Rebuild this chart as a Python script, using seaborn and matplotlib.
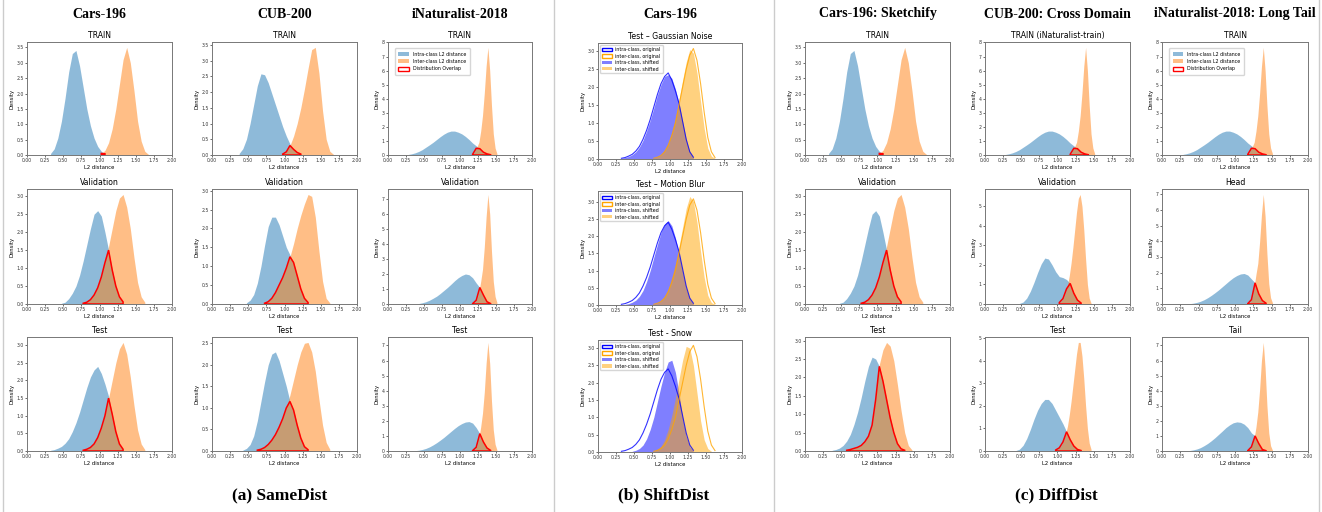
import numpy as np
import pandas as pd
import matplotlib
matplotlib.use("Agg")
import matplotlib.pyplot as plt
from matplotlib.patches import Patch
from matplotlib.lines import Line2D
from matplotlib.ticker import MultipleLocator, FormatStrFormatter
import seaborn as sns

BIN = 0.05    # coarse bin width of the stored densities
FINE = 0.025  # bin width used for the narrow inter-class peaks

# ---------------- data (density per bin) ----------------
# Cars-196 (same data reused for Sketchify TRAIN / Validation)
cars_train_intra_start = 0.30
cars_train_intra = [0.05, 0.2, 0.55, 1.1, 1.85, 2.7, 3.3, 3.4, 2.9, 2.2, 1.5, 0.95, 0.55, 0.28, 0.12, 0.04]
cars_train_inter_start = 1.00
cars_train_inter = [0.05, 0.15, 0.4, 0.85, 1.5, 2.3, 3.1, 3.5, 3.0, 2.1, 1.1, 0.45, 0.12, 0.02]

cars_val_intra_start = 0.45
cars_val_intra = [0.02, 0.05, 0.15, 0.3, 0.5, 0.8, 1.2, 1.65, 2.1, 2.5, 2.6, 2.45, 2.0, 1.5, 0.95, 0.5, 0.2, 0.06]
cars_val_inter_start = 0.75
cars_val_inter = [0.02, 0.05, 0.12, 0.25, 0.45, 0.75, 1.15, 1.6, 2.1, 2.6, 2.95, 3.05, 2.7, 2.1, 1.3, 0.6, 0.2, 0.05]

cars_test_intra_start = 0.30
cars_test_intra = [0.02, 0.04, 0.08, 0.13, 0.22, 0.35, 0.55, 0.8, 1.1, 1.45, 1.8, 2.1, 2.3, 2.4, 2.2, 1.9, 1.55, 1.05, 0.55, 0.2, 0.05]
cars_test_inter_start = 0.75
cars_test_inter = [0.02, 0.05, 0.1, 0.2, 0.38, 0.65, 1.0, 1.5, 2.0, 2.5, 2.9, 3.08, 2.75, 2.1, 1.3, 0.6, 0.2, 0.04]

# CUB-200
cub_train_intra_start = 0.35
cub_train_intra = [0.05, 0.2, 0.5, 1.0, 1.6, 2.2, 2.58, 2.55, 2.3, 1.95, 1.6, 1.25, 0.9, 0.6, 0.35, 0.18, 0.08, 0.03]
cub_train_inter_start = 0.95
cub_train_inter = [0.03, 0.1, 0.3, 0.6, 1.0, 1.5, 2.1, 2.75, 3.35, 3.42, 2.6, 1.4, 0.5, 0.12, 0.02]

cub_val_intra_start = 0.45
cub_val_intra = [0.03, 0.1, 0.25, 0.55, 1.0, 1.55, 2.05, 2.3, 2.3, 2.1, 1.8, 1.5, 1.3, 1.1, 0.75, 0.4, 0.15, 0.04]
cub_val_inter_start = 0.70
cub_val_inter = [0.02, 0.06, 0.15, 0.3, 0.5, 0.7, 0.95, 1.25, 1.6, 2.0, 2.35, 2.65, 2.9, 2.85, 2.3, 1.4, 0.6, 0.15, 0.03]

cub_test_intra_start = 0.40
cub_test_intra = [0.02, 0.06, 0.15, 0.35, 0.7, 1.15, 1.6, 2.0, 2.25, 2.3, 2.1, 1.8, 1.5, 1.15, 0.95, 0.6, 0.3, 0.1, 0.03]
cub_test_inter_start = 0.60
cub_test_inter = [0.02, 0.04, 0.08, 0.15, 0.25, 0.38, 0.55, 0.75, 1.0, 1.3, 1.65, 2.0, 2.3, 2.5, 2.52, 2.3, 1.85, 1.2, 0.6, 0.2, 0.04]

# iNaturalist-2018 (TRAIN reused in DiffDist)
inat_train_intra_start = 0.25
inat_train_intra = [0.03, 0.08, 0.15, 0.25, 0.38, 0.55, 0.72, 0.9, 1.1, 1.3, 1.48, 1.62, 1.7, 1.7, 1.62, 1.5, 1.32, 1.1, 0.85, 0.65, 0.45, 0.2, 0.08, 0.02]
inat_train_inter_start = 1.175
inat_train_inter = [0.1, 0.35, 0.6, 0.9, 1.7, 2.8, 4.4, 6.3, 7.65, 6.0, 3.5, 1.5, 0.5, 0.1]

inat_val_intra_start = 0.40
inat_val_intra = [0.03, 0.08, 0.15, 0.25, 0.38, 0.52, 0.7, 0.9, 1.1, 1.32, 1.55, 1.75, 1.9, 2.0, 1.95, 1.75, 1.4, 1.1, 0.6, 0.15, 0.03]
inat_val_inter_start = 1.175
inat_val_inter = [0.05, 0.15, 0.35, 0.8, 1.5, 2.3, 3.8, 5.8, 7.3, 6.0, 3.5, 1.5, 0.5, 0.1]

inat_test_intra_start = 0.35
inat_test_intra = [0.02, 0.05, 0.1, 0.17, 0.27, 0.4, 0.55, 0.72, 0.9, 1.1, 1.3, 1.5, 1.68, 1.82, 1.92, 1.95, 1.85, 1.55, 1.15, 0.6, 0.2, 0.04]
inat_test_inter_start = 1.175
inat_test_inter = [0.05, 0.15, 0.35, 0.85, 1.6, 2.5, 3.9, 5.8, 7.2, 5.8, 3.3, 1.4, 0.45, 0.08]

# ShiftDist (Cars-196 test, shifted versions; originals = cars_test_*)
noise_intra_start = 0.30
noise_intra = [0.02, 0.04, 0.07, 0.12, 0.2, 0.33, 0.52, 0.78, 1.08, 1.42, 1.78, 2.08, 2.3, 2.35, 2.25, 1.95, 1.55, 1.05, 0.55, 0.2, 0.05]
noise_inter_start = 0.75
noise_inter = [0.02, 0.05, 0.12, 0.25, 0.45, 0.75, 1.15, 1.65, 2.2, 2.7, 3.05, 2.95, 2.4, 1.6, 0.85, 0.3, 0.08, 0.02]

blur_intra_start = 0.35
blur_intra = [0.02, 0.04, 0.08, 0.14, 0.25, 0.42, 0.68, 1.0, 1.38, 1.75, 2.1, 2.35, 2.45, 2.3, 1.95, 1.5, 0.98, 0.5, 0.18, 0.04]
blur_inter_start = 0.75
blur_inter = [0.02, 0.05, 0.12, 0.25, 0.47, 0.8, 1.2, 1.7, 2.25, 2.8, 3.15, 3.0, 2.4, 1.55, 0.8, 0.28, 0.07, 0.02]

snow_intra_start = 0.45
snow_intra = [0.02, 0.05, 0.1, 0.2, 0.38, 0.65, 1.0, 1.45, 1.9, 2.3, 2.6, 2.65, 2.3, 1.7, 1.0, 0.45, 0.15, 0.03]
snow_inter_start = 0.75
snow_inter = [0.03, 0.07, 0.17, 0.35, 0.65, 1.05, 1.55, 2.1, 2.65, 3.05, 3.0, 2.5, 1.7, 0.9, 0.35, 0.1, 0.02]

# DiffDist
sketch_test_intra_start = 0.35
sketch_test_intra = [0.02, 0.04, 0.08, 0.15, 0.27, 0.45, 0.72, 1.05, 1.45, 1.9, 2.3, 2.55, 2.5, 2.3, 1.9, 1.4, 0.9, 0.5, 0.2, 0.06, 0.02]
sketch_test_inter_start = 0.55
sketch_test_inter = [0.02, 0.04, 0.07, 0.1, 0.15, 0.25, 0.4, 0.7, 1.4, 2.35, 2.75, 2.95, 2.85, 2.45, 1.8, 1.1, 0.5, 0.15, 0.03]

cross_val_intra_start = 0.45
cross_val_intra = [0.03, 0.1, 0.3, 0.65, 1.1, 1.6, 2.05, 2.35, 2.3, 2.0, 1.65, 1.4, 1.35, 1.25, 1.05, 0.55, 0.2, 0.05]
cross_val_inter_start = 1.00
cross_val_inter = [0.05, 0.1, 0.2, 0.35, 0.6, 0.95, 1.45, 2.1, 2.9, 3.8, 4.7, 5.4, 5.6, 5.0, 3.8, 2.3, 1.0, 0.3, 0.05]

cross_test_intra_start = 0.40
cross_test_intra = [0.02, 0.08, 0.25, 0.55, 0.95, 1.4, 1.8, 2.1, 2.28, 2.28, 2.1, 1.8, 1.5, 1.2, 0.85, 0.5, 0.22, 0.07, 0.02]
cross_test_inter_start = 0.95
cross_test_inter = [0.03, 0.06, 0.1, 0.18, 0.3, 0.5, 0.75, 1.1, 1.6, 2.2, 2.9, 3.6, 4.3, 4.8, 4.8, 4.2, 3.2, 2.0, 1.0, 0.35, 0.08]

head_intra_start = 0.35
head_intra = [0.02, 0.05, 0.1, 0.17, 0.27, 0.4, 0.55, 0.72, 0.9, 1.1, 1.3, 1.5, 1.68, 1.82, 1.92, 1.95, 1.85, 1.6, 1.35, 0.65, 0.22, 0.05]
head_inter_start = 1.175
head_inter = [0.05, 0.15, 0.4, 1.1, 1.9, 2.6, 4.0, 5.7, 7.0, 5.6, 3.2, 1.3, 0.4, 0.08]

tail_intra_start = 0.35
tail_intra = [0.03, 0.07, 0.13, 0.22, 0.35, 0.5, 0.68, 0.88, 1.1, 1.32, 1.55, 1.73, 1.87, 1.93, 1.9, 1.78, 1.55, 1.2, 1.0, 0.5, 0.1, 0.02]
tail_inter_start = 1.175
tail_inter = [0.05, 0.15, 0.4, 0.85, 1.6, 2.6, 4.1, 6.0, 7.2, 5.5, 3.0, 1.2, 0.35, 0.06]

col_titles = ["Cars-196", "CUB-200", "iNaturalist-2018", "Cars-196",
              "Cars-196: Sketchify", "CUB-200: Cross Domain", "iNaturalist-2018: Long Tail"]
group_labels = ["(a) SameDist", "(b) ShiftDist", "(c) DiffDist"]

# ---------------- figure ----------------
W, H = 1322, 512
fig = plt.figure(figsize=(W / 100, H / 100), dpi=100)
fig.patch.set_facecolor("white")

BLUE, ORANGE = "#1f77b4", "#ff7f0e"


def add_ax(x0, x1, y0, y1):
    return fig.add_axes([x0 / W, 1 - y1 / H, (x1 - x0) / W, (y1 - y0) / H])


def hist(ax, s, color, alpha, fill=True, lw=0.8):
    start, vals, w = s
    vals = [float(v) for v in vals]
    edges = [float(start + w * i) for i in range(len(vals) + 1)]
    centers = [(edges[i] + edges[i + 1]) / 2 for i in range(len(vals))]
    df = pd.DataFrame({"x": centers, "w": vals})
    if fill:
        sns.histplot(data=df, x="x", weights="w", bins=edges, stat="count", element="poly",
                     fill=True, color=color, alpha=alpha, linewidth=0, ax=ax)
    else:
        sns.histplot(data=df, x="x", weights="w", bins=edges, stat="count", element="poly",
                     fill=False, color=color, alpha=alpha, linewidth=lw, ax=ax)


def to_grid(s):
    start, vals, w = s
    g = np.zeros(int(round(2 / BIN)))
    for i, v in enumerate(vals):
        k = int(np.floor((start + i * w) / BIN + 1e-6))
        g[k] += v * w / BIN
    return g


def overlap(ax, a, b):
    ov = np.minimum(to_grid(a), to_grid(b))
    idx = np.nonzero(ov > 0)[0]
    i0, i1 = idx[0], idx[-1]
    xs = (np.arange(i0, i1 + 1) + 0.5) * BIN
    ys = ov[i0:i1 + 1]
    px = np.concatenate([[xs[0]], xs, [xs[-1]]])
    py = np.concatenate([[0], ys, [0]])
    ax.fill(px, py, facecolor="none", edgecolor="red", linewidth=1.1, zorder=5)


def style(ax, title, peak):
    ax.set_xlim(0, 2)
    ax.set_ylim(0, peak * 1.05)
    ax.xaxis.set_major_locator(MultipleLocator(0.25))
    ax.xaxis.set_major_formatter(FormatStrFormatter("%.2f"))
    ax.yaxis.set_major_locator(MultipleLocator(0.5 if peak < 4 else 1))
    ax.tick_params(labelsize=3.3, length=1.5, width=0.5, pad=1, colors="#333333")
    ax.set_xlabel("L2 distance", fontsize=3.8, labelpad=1)
    ax.set_ylabel("Density", fontsize=3.8, labelpad=1.5)
    ax.set_title(title, fontsize=5.6, pad=3)
    for sp in ax.spines.values():
        sp.set_color("#777777")
        sp.set_linewidth(0.7)


def panel(ax, title, intra, inter, legend=False):
    hist(ax, intra, BLUE, 0.5)
    hist(ax, inter, ORANGE, 0.5)
    overlap(ax, intra, inter)
    peak = max(max(intra[1]), max(inter[1]))
    style(ax, title, peak)
    if legend:
        handles = [Patch(facecolor=BLUE, alpha=0.5, label="Intra-class L2 distance"),
                   Patch(facecolor=ORANGE, alpha=0.5, label="Inter-class L2 distance"),
                   Patch(facecolor="white", edgecolor="red", label="Distribution Overlap")]
        ax.legend(handles=handles, loc="upper left", fontsize=3.4, frameon=True,
                  borderpad=0.8, handlelength=2.2, handleheight=1.0, labelspacing=0.5,
                  bbox_to_anchor=(0.03, 0.97))


def shift_panel(ax, title, orig_intra, orig_inter, sh_intra, sh_inter):
    hist(ax, sh_intra, "blue", 0.5)
    hist(ax, sh_inter, "orange", 0.5)
    hist(ax, orig_intra, "blue", 0.8, fill=False)
    hist(ax, orig_inter, "orange", 0.8, fill=False)
    peak = max(max(sh_intra[1]), max(sh_inter[1]), max(orig_intra[1]), max(orig_inter[1]))
    style(ax, title, peak)
    handles = [Patch(facecolor="white", edgecolor="blue", label="intra-class, original"),
               Patch(facecolor="white", edgecolor="orange", label="inter-class, original"),
               Patch(facecolor="blue", alpha=0.5, label="intra-class, shifted"),
               Patch(facecolor="orange", alpha=0.5, label="inter-class, shifted")]
    ax.legend(handles=handles, loc="upper left", fontsize=3.4, frameon=True,
              borderpad=0.4, handlelength=2.0, labelspacing=0.3)


def S(start, vals, w=BIN):
    return (start, vals, w)


cars_train = (S(cars_train_intra_start, cars_train_intra), S(cars_train_inter_start, cars_train_inter))
cars_val = (S(cars_val_intra_start, cars_val_intra), S(cars_val_inter_start, cars_val_inter))
cars_test = (S(cars_test_intra_start, cars_test_intra), S(cars_test_inter_start, cars_test_inter))
cub_train = (S(cub_train_intra_start, cub_train_intra), S(cub_train_inter_start, cub_train_inter))
cub_val = (S(cub_val_intra_start, cub_val_intra), S(cub_val_inter_start, cub_val_inter))
cub_test = (S(cub_test_intra_start, cub_test_intra), S(cub_test_inter_start, cub_test_inter))
inat_train = (S(inat_train_intra_start, inat_train_intra), S(inat_train_inter_start, inat_train_inter, FINE))
inat_val = (S(inat_val_intra_start, inat_val_intra), S(inat_val_inter_start, inat_val_inter, FINE))
inat_test = (S(inat_test_intra_start, inat_test_intra), S(inat_test_inter_start, inat_test_inter, FINE))
sketch_test = (S(sketch_test_intra_start, sketch_test_intra), S(sketch_test_inter_start, sketch_test_inter))
cross_val = (S(cross_val_intra_start, cross_val_intra), S(cross_val_inter_start, cross_val_inter, FINE))
cross_test = (S(cross_test_intra_start, cross_test_intra), S(cross_test_inter_start, cross_test_inter, FINE))
head = (S(head_intra_start, head_intra), S(head_inter_start, head_inter, FINE))
tail = (S(tail_intra_start, tail_intra), S(tail_inter_start, tail_inter, FINE))

rows_y = [(42, 155), (189, 304), (337, 451)]
cols_a = [(27, 172), (212, 357), (388, 532)]
cols_c = [(805, 950), (985, 1130), (1162, 1308)]
col_b = (598, 742)
rows_b = [(43, 159), (191, 305), (340, 452)]

# (a) SameDist
grid_a = [
    [("TRAIN", cars_train, False), ("TRAIN", cub_train, False), ("TRAIN", inat_train, True)],
    [("Validation", cars_val, False), ("Validation", cub_val, False), ("Validation", inat_val, False)],
    [("Test", cars_test, False), ("Test", cub_test, False), ("Test", inat_test, False)],
]
# (c) DiffDist
grid_c = [
    [("TRAIN", cars_train, False), ("TRAIN (iNaturalist-train)", inat_train, False), ("TRAIN", inat_train, True)],
    [("Validation", cars_val, False), ("Validation", cross_val, False), ("Head", head, False)],
    [("Test", sketch_test, False), ("Test", cross_test, False), ("Tail", tail, False)],
]

for cols, grid in ((cols_a, grid_a), (cols_c, grid_c)):
    for r, (y0, y1) in enumerate(rows_y):
        for c, (x0, x1) in enumerate(cols):
            title, (intra, inter), leg = grid[r][c]
            ax = add_ax(x0, x1, y0, y1)
            panel(ax, title, intra, inter, legend=leg)

# (b) ShiftDist
shift_specs = [
    ("Test – Gaussian Noise", S(noise_intra_start, noise_intra), S(noise_inter_start, noise_inter)),
    ("Test – Motion Blur", S(blur_intra_start, blur_intra), S(blur_inter_start, blur_inter)),
    ("Test - Snow", S(snow_intra_start, snow_intra), S(snow_inter_start, snow_inter)),
]
for (y0, y1), (title, si, se) in zip(rows_b, shift_specs):
    ax = add_ax(col_b[0], col_b[1], y0, y1)
    shift_panel(ax, title, cars_test[0], cars_test[1], si, se)

# column headers
header_x = [(a + b) / 2 for a, b in cols_a] + [(col_b[0] + col_b[1]) / 2] + [(a + b) / 2 for a, b in cols_c]
for x, t in zip(header_x, col_titles):
    fig.text(x / W, 1 - 14 / H, t, ha="center", va="center", fontsize=10,
             fontweight="bold", family="Liberation Serif")

# group labels
group_x = [(cols_a[0][0] + cols_a[2][1]) / 2, 664, (cols_c[0][0] + cols_c[2][1]) / 2]
for x, t in zip(group_x, group_labels):
    fig.text(x / W, 1 - 495 / H, t, ha="center", va="center", fontsize=12.5,
             fontweight="bold", family="Liberation Serif")

# separators
for x in (3, 554, 774, 1319):
    fig.add_artist(Line2D([x / W, x / W], [0, 1], transform=fig.transFigure,
                          color="#cccccc", linewidth=1.0))

fig.savefig("out.png", dpi=100, facecolor="white")
